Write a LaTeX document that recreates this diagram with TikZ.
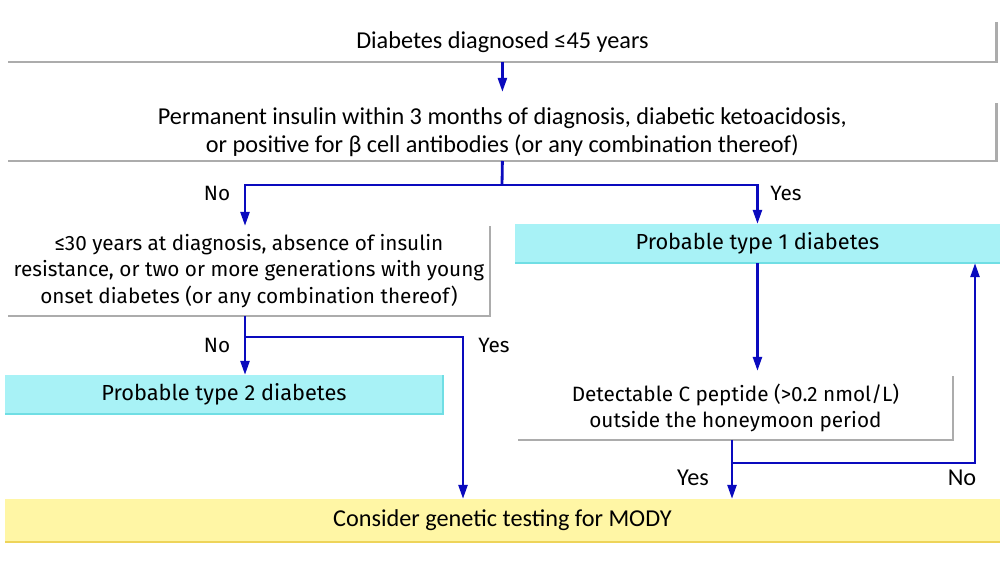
\documentclass[tikz,border=0pt]{standalone}
\usepackage{fontspec}
\setmainfont{Fira Sans}
\newfontfamily\narrowfont{Carlito}
\usetikzlibrary{arrows.meta,positioning}
\definecolor{flowblue}{RGB}{10,10,190}
\definecolor{edgegrey}{RGB}{172,172,172}
\definecolor{typefill}{RGB}{168,242,246}
\definecolor{typeedge}{RGB}{112,222,228}
\definecolor{modyfill}{RGB}{255,246,165}
\definecolor{modyedge}{RGB}{238,212,90}
\begin{document}
\begin{tikzpicture}
[x=0.02cm,y=-0.02cm,
every node/.style={inner sep=0pt,outer sep=0pt},
plainbox/.style={anchor=north west,align=center},
narrowtext/.style={font=\narrowfont\fontsize{13.8pt}{16pt}\selectfont},
widetext/.style={font=\fontsize{11.8pt}{15pt}\selectfont},
typebox/.style={plainbox,fill=typefill,font=\fontsize{12.4pt}{15pt}\selectfont},
greyedge/.style={edgegrey,line width=1.6pt},
flow/.style={flowblue,line width=1.6pt,-{Triangle[length=8pt,width=5pt]}},
link/.style={flowblue,line width=1.6pt}]
	\useasboundingbox (0,0) rectangle (1000,562);
	% boxes
	\node[plainbox,narrowtext,minimum width=19.78cm,minimum height=0.8cm] (diag) at (8,22) {Diabetes diagnosed ≤45 years};
	\node[plainbox,narrowtext,minimum width=19.78cm,minimum height=1.16cm] (insulin) at (8,103)
		{Permanent insulin within 3 months of diagnosis, diabetic ketoacidosis,\\or positive for β cell antibodies (or any combination thereof)};
	\node[plainbox,widetext,minimum width=9.64cm,minimum height=1.8cm] (criteria) at (8,226)
		{≤30 years at diagnosis, absence of insulin\\resistance, or two or more generations with young\\onset diabetes (or any combination thereof)};
	\node[typebox,minimum width=9.7cm,minimum height=0.78cm] (typeone) at (515,224) {Probable type 1 diabetes};
	\node[typebox,minimum width=8.76cm,minimum height=0.78cm] (typetwo) at (5,375) {Probable type 2 diabetes};
	\node[plainbox,widetext,minimum width=8.7cm,minimum height=1.28cm] (cpeptide) at (518,376)
		{Detectable C peptide (>0.2 nmol/L)\\outside the honeymoon period};
	\node[plainbox,narrowtext,fill=modyfill,minimum width=19.9cm,minimum height=0.86cm] (mody) at (5,499) {Consider genetic testing for MODY};
	% box edges
	\draw[greyedge] (diag.north east) -- (diag.south east) -- (diag.south west);
	\draw[greyedge] (insulin.north east) -- (insulin.south east) -- (insulin.south west);
	\draw[greyedge] (criteria.north east) -- (criteria.south east) -- (criteria.south west);
	\draw[greyedge] (cpeptide.north east) -- (cpeptide.south east) -- (cpeptide.south west);
	\draw[typeedge,line width=1.6pt] (typeone.south east) -- (typeone.south west);
	\draw[typeedge,line width=1.6pt] (typetwo.north east) -- (typetwo.south east) -- (typetwo.south west);
	\draw[modyedge,line width=1.6pt] (mody.south east) -- (mody.south west);
	% branch points
	\coordinate (split1) at (502,185);
	\coordinate (split2) at (245,337);
	\coordinate (drop2) at (463,337);
	\coordinate (split3) at (732,463);
	\coordinate (back) at (975,463);
	% connectors
	\draw[flow] (diag.south) -- ([yshift=0.22cm]insulin.north);
	\draw[link] (insulin.south) -- (split1);
	\draw[flow] (split1) -| (split2 |- criteria.north);
	\draw[flow] (split1) -| (typeone.north);
	\draw[flow] (split2 |- criteria.south) -- (split2 |- typetwo.north);
	\draw[flow] (split2) -- (drop2) -- (drop2 |- mody.north);
	\draw[flow] (typeone.south) -- ([yshift=0.1cm]typeone.south |- cpeptide.north);
	\draw[flow] (split3 |- cpeptide.south) -- (split3 |- mody.north);
	\draw[flow] (split3) -- (back) -- (back |- typeone.south);
	% labels
	\node[widetext] (noone) at (217,193) {No};
	\node[widetext] (yesone) at (786,193) {Yes};
	\node[widetext] (notwo) at (217,345) {No};
	\node[widetext] (yestwo) at (494,345) {Yes};
	\node[narrowtext] (yesthree) at (693,478) {Yes};
	\node[narrowtext] (nothree) at (962,478) {No};
\end{tikzpicture}
\end{document}
